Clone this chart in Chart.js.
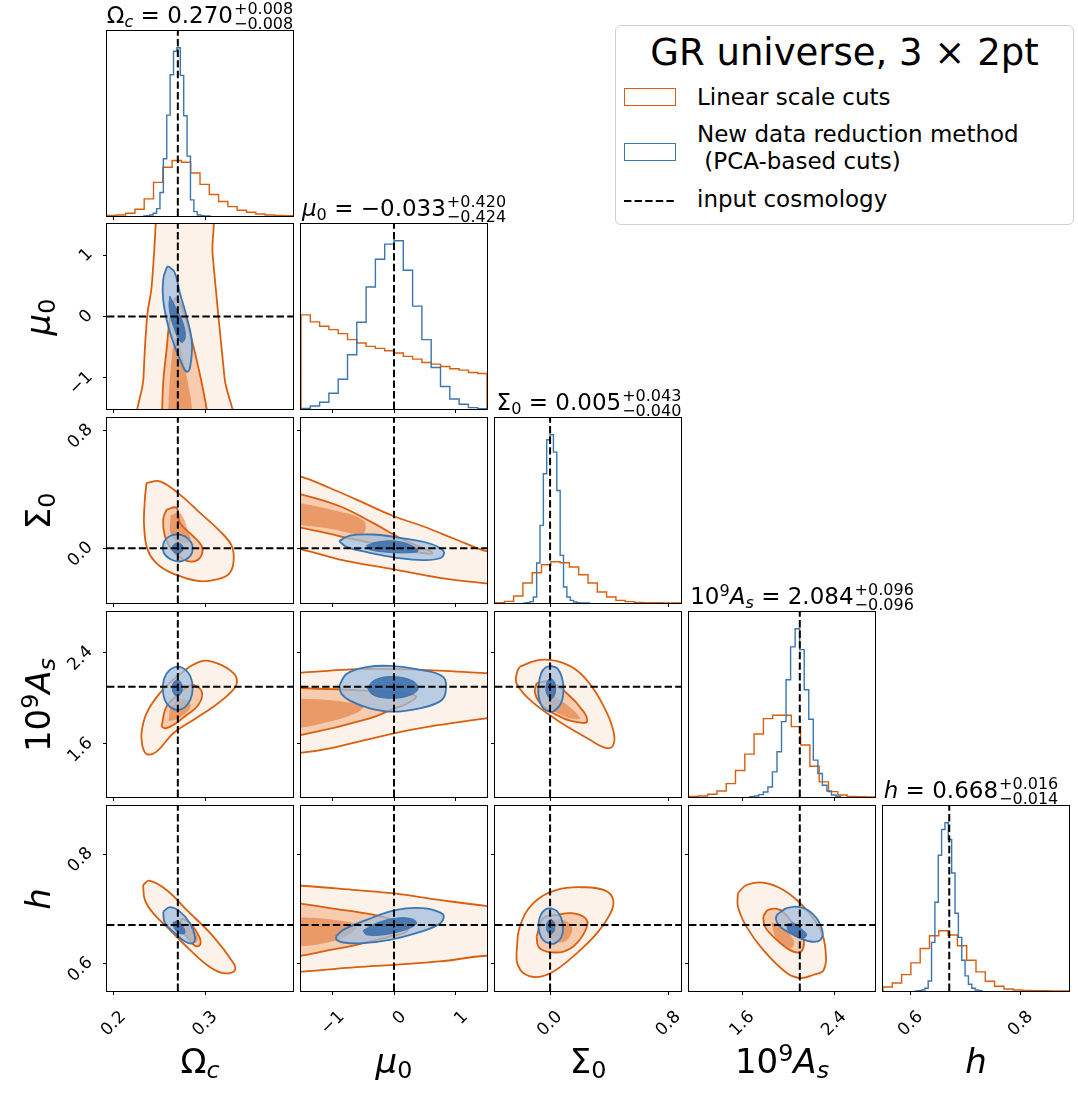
<!DOCTYPE html>
<html>
<head>
<meta charset="utf-8">
<script src="https://cdn.jsdelivr.net/npm/chart.js@4.4.1/dist/chart.umd.min.js"></script>
<style>
body { margin: 0; width: 1078px; height: 1093px; background: #fff; position: relative; overflow: hidden;
       font-family: "DejaVu Sans", sans-serif; color: #000; }
.abs { position: absolute; white-space: nowrap; }
.ttl { font-size: 23px; line-height: 23px; width: 300px; text-align: center; }
.pm { display: inline-flex; flex-direction: column; font-size: 16px; line-height: 15px; position: relative; top: -9px; margin-left: 1px; text-align: left; }
.lab { font-size: 34px; line-height: 34px; width: 200px; text-align: center; }
.sb { font-size: 0.7em; vertical-align: -0.22em; line-height: 0; }
.sp { font-size: 0.7em; vertical-align: 0.5em; line-height: 0; }
.leg { font-size: 23px; line-height: 23px; }
#legbox { left: 615px; top: 25px; width: 457px; height: 198px; border: 1px solid #d0d0d0; border-radius: 6px; background: #fff; }
.patch { width: 52px; height: 18px; box-sizing: border-box; border: 1.5px solid; background: #fff; }
</style>
</head>
<body>
<div id="legbox" class="abs"></div>
<div class="abs" style="left:615px;top:34px;width:459px;text-align:center;font-size:37px;line-height:37px;">GR universe, 3 × 2pt</div>
<div class="abs patch" style="left:624px;top:88px;border-color:#d95f0e;"></div>
<div class="abs leg" style="left:697px;top:86px;">Linear scale cuts</div>
<div class="abs patch" style="left:624px;top:143px;border-color:#3b76b1;"></div>
<div class="abs leg" style="left:697px;top:123px;">New data reduction method</div>
<div class="abs leg" style="left:697px;top:150px;">&nbsp;(PCA-based cuts)</div>
<svg class="abs" style="left:624px;top:196px" width="54" height="10"><line x1="0" y1="5" x2="53" y2="5" stroke="#000" stroke-width="2" stroke-dasharray="7.4 3.2"/></svg>
<div class="abs leg" style="left:697px;top:188px;">input cosmology</div>

<script>
// parameters: Omega_c, mu_0, Sigma_0, 10^9 A_s, h
const truth  = [0.27, 0, 0, 2.1, 0.67];
const axisLo = [0.1927, -1.505, -0.372, 1.135, 0.5495];
const axisHi = [0.3957, 1.505, 0.884, 2.755, 0.8878];

const tickVals = [[0.2, 0.3], [-1, 0, 1], [0.0, 0.8], [1.6, 2.4], [0.6, 0.8]];
const tickText = [['0.2', '0.3'], ['−1', '0', '1'], ['0.0', '0.8'], ['1.6', '2.4'], ['0.6', '0.8']];

// 1D histograms, linear scale cuts (20 bins over the axis range)
const histLinear = [
  [2, 3, 8, 20, 51, 100, 145, 165, 160, 128, 94, 64, 43, 28, 17, 11, 6, 3, 2, 1],
  [281, 260, 247, 237, 225, 207, 197, 187, 181, 174, 167, 157, 149, 139, 134, 127, 120, 116, 109, 106],
  [1, 5, 21, 60, 91, 115, 124, 121, 108, 85, 60, 33, 18, 8, 4, 2, 1, 1, 0, 0],
  [2, 3, 8, 18, 40, 79, 128, 188, 234, 244, 244, 210, 155, 92, 45, 16, 6, 2, 1, 0],
  [12, 24, 49, 84, 127, 165, 180, 167, 135, 92, 57, 29, 14, 6, 3, 2, 1, 1, 0, 0]
];
// 1D histograms, PCA-based cuts (20 bins over their own range)
const histPcaLo = [0.232, -1.505, -0.1814, 1.664, 0.6073];
const histPcaHi = [0.306, 1.505, 0.272, 2.455, 0.7293];
const histPca = [
  [0, 1, 3, 8, 22, 70, 170, 300, 420, 490, 500, 418, 298, 178, 48, 13, 3, 1, 0, 0],
  [2, 9, 20, 47, 89, 162, 259, 364, 447, 492, 502, 414, 307, 207, 124, 67, 30, 14, 4, 1],
  [0, 1, 4, 18, 120, 233, 388, 490, 505, 453, 338, 143, 48, 18, 8, 3, 1, 0, 0, 0],
  [1, 3, 7, 15, 30, 75, 135, 225, 350, 448, 502, 440, 320, 232, 110, 70, 35, 18, 6, 2],
  [0, 1, 3, 8, 30, 145, 265, 405, 482, 502, 452, 352, 232, 160, 92, 45, 20, 8, 3, 1]
];

// 2D contours [x, y] per panel
const omMu = {
  linOuter: [[0.247,1.8],[0.2415,0.5],[0.2365,0],[0.2325,-1],[0.2305,-1.8],[0.326,-1.8],[0.321,-1],[0.3143,0],[0.308,1],[0.303,1.8]],
  linInner: [[0.2525,-1.8],[0.254,-1.09],[0.2577,-0.54],[0.2613,-0.05],[0.2676,0.30],[0.2741,0.16],[0.2832,-0.27],[0.2923,-0.82],[0.3015,-1.51],[0.303,-1.8]],
  linCore:  [[0.259,-1.8],[0.262,-0.9],[0.268,-0.35],[0.276,-0.7],[0.284,-1.8]],
  pcaOuter: [[0.2595,0.82],[0.2665,0.72],[0.2723,0.38],[0.2796,0.0],[0.2854,-0.43],[0.2832,-0.84],[0.2796,-0.90],[0.2741,-0.76],[0.2668,-0.49],[0.2595,-0.16],[0.254,0.27],[0.254,0.60],[0.2577,0.79]],
  pcaInner: [[0.2613,0.33],[0.2665,0.18],[0.2755,-0.1],[0.278,-0.35],[0.2735,-0.42],[0.265,-0.15],[0.2605,0.15]]
};
const omSig = {
  linOuter: [[0.2358,0.443],[0.2504,0.454],[0.2723,0.364],[0.2942,0.240],[0.3161,0.115],[0.3289,0.014],[0.3307,-0.099],[0.3252,-0.178],[0.3125,-0.212],[0.2942,-0.224],[0.2723,-0.190],[0.2504,-0.122],[0.2376,-0.020],[0.2332,0.149],[0.234,0.330]],
  linInner: [[0.2577,0.262],[0.2687,0.274],[0.2723,0.172],[0.2869,0.081],[0.2961,0.014],[0.2961,-0.043],[0.2887,-0.088],[0.2759,-0.077],[0.2632,-0.009],[0.2559,0.081],[0.254,0.195]],
  linCore:  [[0.262,0.22],[0.272,0.24],[0.281,0.12],[0.283,0.05],[0.270,0.04],[0.262,0.10]],
  pcaOuter: [[0.2533,0.0],[0.2555,0.05],[0.262,0.085],[0.2698,0.093],[0.278,0.08],[0.2845,0.04],[0.2862,-0.005],[0.284,-0.05],[0.2775,-0.082],[0.2698,-0.09],[0.262,-0.075],[0.2555,-0.04]],
  pcaInner: [[0.2638,0],[0.2655,0.025],[0.2698,0.036],[0.274,0.025],[0.2758,0],[0.274,-0.025],[0.2698,-0.036],[0.2655,-0.025]]
};
const omAs = {
  linOuter: [[0.2314,1.575],[0.2303,1.693],[0.2358,1.868],[0.2504,2.044],[0.2687,2.189],[0.2942,2.321],[0.3125,2.307],[0.3307,2.219],[0.3344,2.132],[0.327,2.044],[0.3088,1.926],[0.2869,1.81],[0.2650,1.693],[0.2468,1.532],[0.2358,1.511]],
  linInner: [[0.2522,1.751],[0.2577,1.926],[0.2723,2.044],[0.2851,2.117],[0.2961,2.058],[0.2924,1.941],[0.2796,1.853],[0.2668,1.775],[0.2569,1.737]],
  linCore:  [[0.260,1.80],[0.263,1.93],[0.275,1.99],[0.284,1.93],[0.272,1.83]],
  pcaOuter: [[0.2533,2.09],[0.2555,2.18],[0.2615,2.25],[0.2693,2.277],[0.2775,2.255],[0.2838,2.19],[0.2862,2.09],[0.2838,1.99],[0.2775,1.92],[0.2693,1.897],[0.2612,1.925],[0.2555,1.99]],
  pcaInner: [[0.2638,2.09],[0.2655,2.14],[0.2693,2.16],[0.2732,2.14],[0.2748,2.09],[0.2732,2.04],[0.2693,2.02],[0.2655,2.04]]
};
const omH = {
  linOuter: [[0.2321,0.7434],[0.2387,0.7513],[0.2577,0.7343],[0.2796,0.6978],[0.3088,0.6491],[0.3307,0.6005],[0.3325,0.5883],[0.327,0.5823],[0.3161,0.5834],[0.3015,0.5975],[0.2832,0.6248],[0.2613,0.6613],[0.2430,0.6918],[0.2340,0.7161]],
  linInner: [[0.2741,0.6827],[0.2832,0.6735],[0.2934,0.6491],[0.2942,0.6339],[0.2887,0.6321],[0.2796,0.6491],[0.2723,0.6673]],
  linCore:  [[0.276,0.672],[0.285,0.665],[0.292,0.645],[0.288,0.638],[0.279,0.655]],
  pcaOuter: [[0.254,0.6947],[0.2613,0.7027],[0.2723,0.6947],[0.2832,0.6735],[0.2887,0.6491],[0.2862,0.6369],[0.2778,0.6400],[0.2668,0.6552],[0.2559,0.6735]],
  pcaInner: [[0.2650,0.675],[0.2705,0.677],[0.2765,0.665],[0.2775,0.655],[0.2715,0.655],[0.2660,0.665]]
};
const muSig = {
  linOuter: [[-1.8,0.51],[-1.494,0.484],[-1.037,0.409],[-0.607,0.330],[0,0.217],[0.468,0.149],[1.006,0.059],[1.49,-0.020],[1.8,-0.04],[1.8,-0.25],[1.49,-0.239],[0.737,-0.201],[0,-0.144],[-0.876,-0.077],[-1.494,-0.009],[-1.8,0.0]],
  linInner: [[-1.8,0.38],[-1.494,0.364],[-0.876,0.285],[-0.339,0.172],[0.145,0.059],[0.576,-0.018],[0.62,-0.03],[0.576,-0.038],[0.092,-0.009],[-0.339,0.032],[-0.876,0.081],[-1.494,0.138],[-1.8,0.15]],
  linCore:  [[-1.8,0.33],[-1.0,0.26],[-0.5,0.19],[-0.5,0.10],[-1.0,0.13],[-1.8,0.2]],
  pcaOuter: [[-0.887,0.048],[-0.715,0.086],[-0.339,0.093],[0.092,0.070],[0.576,0.032],[0.802,-0.020],[0.764,-0.065],[0.468,-0.081],[0.039,-0.065],[-0.392,-0.031],[-0.768,0.009]],
  pcaInner: [[-0.445,0.018],[-0.284,0.041],[0.039,0.048],[0.306,0.014],[0.387,-0.020],[0.2,-0.031],[-0.123,-0.027],[-0.392,-0.009]]
};
const muAs = {
  linOuter: [[-1.8,2.225],[-1.494,2.225],[-0.607,2.254],[0,2.254],[0.737,2.242],[1.49,2.219],[1.8,2.215],[1.8,1.83],[1.49,1.824],[0.737,1.766],[0,1.693],[-1.037,1.561],[-1.494,1.523],[-1.8,1.52]],
  linInner: [[-1.8,2.09],[-1.494,2.088],[-0.6,2.07],[0.2,2.04],[0.361,2.014],[0.2,1.95],[0,1.91],[-0.392,1.824],[-1.494,1.678],[-1.8,1.67]],
  linCore:  [[-1.8,2.0],[-1.0,1.98],[-0.5,1.92],[-1.0,1.8],[-1.8,1.76]],
  pcaOuter: [[-0.887,2.108],[-0.768,2.213],[-0.445,2.272],[-0.069,2.283],[0.361,2.254],[0.790,2.189],[0.834,2.049],[0.737,1.970],[0.415,1.912],[-0.016,1.882],[-0.392,1.912],[-0.715,1.979],[-0.849,2.038]],
  pcaInner: [[-0.43,2.09],[-0.311,2.161],[-0.016,2.189],[0.306,2.151],[0.387,2.079],[0.226,2.020],[-0.069,2.0],[-0.339,2.029]]
};
const sigAs = {
  linOuter: [[-0.204,2.277],[-0.068,2.336],[0.091,2.307],[0.227,2.189],[0.363,1.926],[0.431,1.693],[0.42,1.575],[0.363,1.570],[0.272,1.634],[0.045,1.810],[-0.136,1.985],[-0.227,2.132],[-0.222,2.233]],
  linInner: [[-0.091,2.132],[-0.011,2.146],[0.113,2.044],[0.227,1.882],[0.249,1.795],[0.204,1.786],[0.091,1.824],[-0.045,1.926],[-0.102,2.044]],
  linCore:  [[-0.02,2.05],[0.05,2.0],[0.17,1.88],[0.2,1.82],[0.1,1.84],[0.0,1.93]],
  pcaOuter: [[0.005,2.283],[0.05,2.26],[0.08,2.18],[0.091,2.08],[0.075,1.96],[0.03,1.89],[0.0,1.882],[-0.045,1.91],[-0.075,2.0],[-0.079,2.1],[-0.06,2.22],[-0.03,2.27]],
  pcaInner: [[0.005,2.18],[0.03,2.14],[0.037,2.08],[0.028,2.02],[0.005,1.995],[-0.02,2.03],[-0.028,2.09],[-0.018,2.15]]
};
const muH = {
  linOuter: [[-1.8,0.742],[-1.494,0.742],[-0.607,0.734],[0,0.728],[0.737,0.716],[1.49,0.705],[1.8,0.703],[1.8,0.612],[1.49,0.614],[0.737,0.6035],[0,0.5974],[-0.607,0.593],[-1.494,0.585],[-1.8,0.585]],
  linInner: [[-1.8,0.71],[-1.494,0.709],[-1.037,0.701],[-0.339,0.689],[0.039,0.677],[0.226,0.664],[0.173,0.656],[-0.069,0.649],[-0.607,0.634],[-1.145,0.622],[-1.494,0.614],[-1.8,0.613]],
  linCore:  [[-1.8,0.685],[-1.0,0.68],[-0.6,0.668],[-1.0,0.64],[-1.8,0.638]],
  pcaOuter: [[-0.94,0.6491],[-0.822,0.6613],[-0.445,0.6796],[0.039,0.6978],[0.468,0.7009],[0.764,0.6918],[0.802,0.6827],[0.710,0.6704],[0.361,0.6553],[-0.069,0.6431],[-0.5,0.6370],[-0.822,0.6382],[-0.929,0.6431]],
  pcaInner: [[-0.5,0.66],[-0.284,0.6735],[0.039,0.6827],[0.306,0.6809],[0.361,0.6722],[0.145,0.66],[-0.177,0.6522],[-0.445,0.6522]]
};
const sigH = {
  linOuter: [[-0.227,0.6188],[-0.204,0.6673],[-0.113,0.71],[0.045,0.7343],[0.227,0.7392],[0.374,0.7331],[0.426,0.7161],[0.408,0.6918],[0.317,0.6553],[0.181,0.6188],[0.023,0.5853],[-0.091,0.575],[-0.181,0.5823],[-0.222,0.6005]],
  linInner: [[-0.091,0.6491],[-0.045,0.6827],[0.045,0.6887],[0.147,0.6918],[0.238,0.6827],[0.249,0.6673],[0.181,0.637],[0.091,0.6217],[-0.023,0.6217],[-0.079,0.6309]],
  linCore:  [[-0.02,0.675],[0.08,0.68],[0.15,0.665],[0.1,0.64],[0.0,0.645]],
  pcaOuter: [[0.005,0.701],[0.045,0.696],[0.075,0.683],[0.088,0.665],[0.075,0.647],[0.035,0.637],[0.0,0.636],[-0.045,0.642],[-0.072,0.656],[-0.078,0.674],[-0.06,0.69],[-0.03,0.699]],
  pcaInner: [[0.005,0.681],[0.025,0.676],[0.032,0.667],[0.025,0.658],[0.005,0.654],[-0.018,0.658],[-0.024,0.667],[-0.017,0.676]]
};
const asH = {
  linOuter: [[1.561,0.7283],[1.635,0.7434],[1.781,0.7477],[1.957,0.7343],[2.133,0.7038],[2.280,0.6613],[2.324,0.6248],[2.309,0.5883],[2.221,0.5792],[2.104,0.5732],[1.987,0.5823],[1.781,0.6248],[1.635,0.6673],[1.561,0.7038]],
  linInner: [[1.781,0.6856],[1.825,0.6978],[1.928,0.6978],[2.016,0.6796],[2.119,0.6522],[2.133,0.6309],[2.089,0.6199],[1.987,0.6279],[1.869,0.6491],[1.796,0.6673]],
  linCore:  [[1.85,0.675],[1.95,0.668],[2.05,0.64],[2.02,0.628],[1.9,0.645]],
  pcaOuter: [[1.899,0.6887],[1.987,0.7009],[2.104,0.7027],[2.221,0.6887],[2.295,0.6613],[2.280,0.6431],[2.192,0.64],[2.045,0.6522],[1.928,0.6673],[1.893,0.6796]],
  pcaInner: [[1.99,0.672],[2.05,0.673],[2.12,0.662],[2.16,0.652],[2.12,0.646],[2.05,0.652],[1.995,0.662]]
};
const panels2d = {'1,0': omMu, '2,0': omSig, '3,0': omAs, '4,0': omH, '2,1': muSig, '3,1': muAs, '4,1': muH, '3,2': sigAs, '4,2': sigH, '4,3': asH};

const titles = [
  'Ω<span class="sb"><i>c</i></span> = 0.270<span class="pm"><span>+0.008</span><span>−0.008</span></span>',
  '<i>μ</i><span class="sb">0</span> = −0.033<span class="pm"><span>+0.420</span><span>−0.424</span></span>',
  'Σ<span class="sb">0</span> = 0.005<span class="pm"><span>+0.043</span><span>−0.040</span></span>',
  '10<span class="sp">9</span><i>A</i><span class="sb"><i>s</i></span> = 2.084<span class="pm"><span>+0.096</span><span>−0.096</span></span>',
  '<i>h</i> = 0.668<span class="pm"><span>+0.016</span><span>−0.014</span></span>'
];
const axisNames = [
  'Ω<span class="sb"><i>c</i></span>',
  '<i>μ</i><span class="sb">0</span>',
  'Σ<span class="sb">0</span>',
  '10<span class="sp">9</span><i>A</i><span class="sb"><i>s</i></span>',
  '<i>h</i>'
];

// layout
const colLeft = [107, 301, 495, 689, 883];
const rowTop = [31, 224, 418, 612, 806];
const titleCx = [200, 404, 589, 802, 971];
const PW = 186, PH = 185, PADL = 52, PADR = 2, PADT = 2, PADB = 50;
const ORANGE = '#d95f0e', BLUE = '#3b76b1';

Chart.defaults.font.family = 'DejaVu Sans';

const framePlugin = {
  id: 'frame',
  afterDraw(chart) {
    const {ctx, chartArea: a} = chart;
    ctx.save();
    ctx.strokeStyle = '#000';
    ctx.lineWidth = 1;
    ctx.strokeRect(a.left - 0.5, a.top - 0.5, a.right - a.left + 1, a.bottom - a.top + 1);
    ctx.restore();
  }
};

function noPad(s) { s.paddingTop = 0; s.paddingBottom = 0; s.paddingLeft = 0; s.paddingRight = 0; }

function paramScale(k, axis, showLabels) {
  const isX = axis === 'x';
  return {
    type: 'linear', min: axisLo[k], max: axisHi[k],
    afterBuildTicks: s => { s.ticks = tickVals[k].map(v => ({value: v})); },
    afterFit: s => { if (isX) s.height = PADB; else s.width = PADL; noPad(s); },
    grid: {display: true, drawOnChartArea: false, drawTicks: true, tickLength: 4, color: '#000', lineWidth: 1},
    border: {display: false},
    ticks: {
      display: showLabels, autoSkip: false, minRotation: 45, maxRotation: 45, color: '#000',
      padding: isX ? 12 : 13, font: {size: 17}, labelOffset: isX ? 9.5 : -3.5,
      callback: (v, i) => tickText[k][i]
    }
  };
}

const pts = arr => arr.map(([x, y]) => ({x, y}));
const closed = arr => pts(arr.concat([arr[0]]));
const dash = {borderColor: '#000', borderWidth: 2, borderDash: [7.4, 3.2], clip: 0};

function histLine(lo, hi, vals) {
  const w = (hi - lo) / vals.length;
  const out = [{x: lo, y: 0}];
  vals.forEach((v, i) => out.push({x: lo + i * w, y: v}));
  out.push({x: hi, y: 0});
  return out;
}

function makeChart(r, c, datasets, yScale) {
  const cv = document.createElement('canvas');
  const w = PW + PADL + PADR, h = PH + PADT + PADB;
  cv.width = w; cv.height = h;
  cv.style.cssText = `position:absolute;left:${colLeft[c] - PADL}px;top:${rowTop[r] - PADT}px;width:${w}px;height:${h}px`;
  document.body.appendChild(cv);
  datasets.forEach(d => { d.pointRadius = 0; d.showLine = true; });
  new Chart(cv, {
    type: 'scatter',
    data: {datasets},
    options: {
      responsive: false, animation: false, events: [],
      layout: {padding: {top: PADT, right: PADR, left: 0, bottom: 0}},
      plugins: {legend: {display: false}, tooltip: {enabled: false}},
      scales: {x: paramScale(c, 'x', r === 4), y: yScale}
    },
    plugins: [framePlugin]
  });
}

for (let r = 0; r < 5; r++) {
  for (let c = 0; c <= r; c++) {
    if (r === c) {
      const yMax = Math.max(...histPca[c]) * 1.1;
      const yScale = {
        type: 'linear', min: 0, max: yMax,
        afterFit: s => { s.width = PADL; noPad(s); },
        grid: {display: false}, border: {display: false}, ticks: {display: false}
      };
      makeChart(r, c, [
        {data: [{x: truth[c], y: 0}, {x: truth[c], y: yMax}], ...dash},
        {data: histLine(histPcaLo[c], histPcaHi[c], histPca[c]), stepped: 'before', borderColor: BLUE, borderWidth: 1.4},
        {data: histLine(axisLo[c], axisHi[c], histLinear[c]), stepped: 'before', borderColor: ORANGE, borderWidth: 1.4}
      ], yScale);
    } else {
      const p = panels2d[r + ',' + c];
      const curve = {tension: 0.4, capBezierPoints: false, fill: 'shape', clip: 0};
      makeChart(r, c, [
        {data: [{x: truth[c], y: axisLo[r]}, {x: truth[c], y: axisHi[r]}], ...dash},
        {data: [{x: axisLo[c], y: truth[r]}, {x: axisHi[c], y: truth[r]}], ...dash},
        {data: closed(p.pcaInner), ...curve, borderColor: 'rgba(55,110,170,0.9)', borderWidth: 1, backgroundColor: 'rgba(58,112,172,0.88)'},
        {data: closed(p.pcaOuter), ...curve, borderColor: BLUE, borderWidth: 1.8, backgroundColor: 'rgba(160,190,222,0.72)'},
        {data: closed(p.linCore), ...curve, borderWidth: 0, borderColor: 'rgba(0,0,0,0)', backgroundColor: 'rgba(220,95,15,0.45)'},
        {data: closed(p.linInner), ...curve, borderColor: ORANGE, borderWidth: 1.8, backgroundColor: 'rgba(232,112,35,0.30)'},
        {data: closed(p.linOuter), ...curve, borderColor: ORANGE, borderWidth: 1.8, backgroundColor: 'rgba(238,125,50,0.10)'}
      ], paramScale(r, 'y', c === 0));
    }
  }
}

// titles above the diagonal panels and axis names
function addText(cls, html, left, top, extra) {
  const d = document.createElement('div');
  d.className = 'abs ' + cls;
  d.innerHTML = html;
  d.style.left = left + 'px';
  d.style.top = top + 'px';
  if (extra) d.style.cssText += extra;
  document.body.appendChild(d);
}
for (let i = 0; i < 5; i++) {
  addText('ttl', titles[i], titleCx[i] - 150, rowTop[i] - 8 - 19.5);
  addText('lab', axisNames[i], colLeft[i] + PW / 2 - 100, 1073 - 28.8);
  if (i > 0) {
    addText('lab', axisNames[i], 38 - 100, rowTop[i] + PH / 2 - 17, 'transform:rotate(-90deg);transform-origin:50% 50%;');
  }
}
</script>
</body>
</html>
